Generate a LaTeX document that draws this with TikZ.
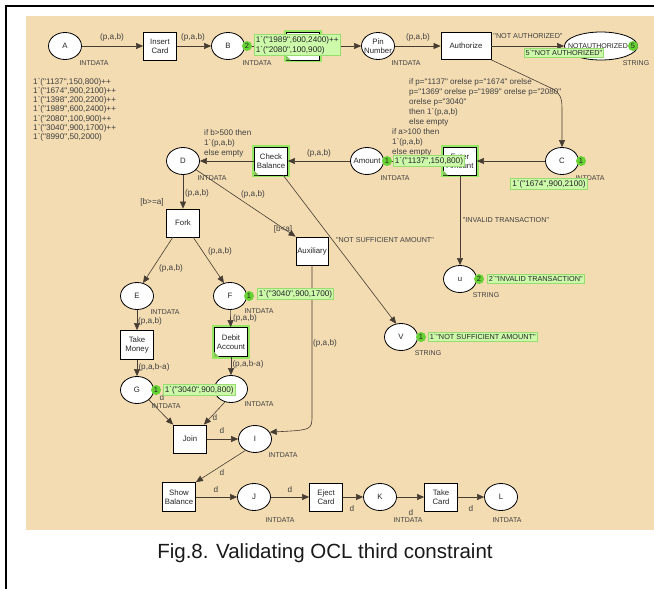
\documentclass[tikz,border=0pt]{standalone}
\usepackage{fontspec}
\setmainfont{Liberation Sans}[Ligatures=TeXOff]
\usetikzlibrary{arrows.meta,shapes.geometric,calc}
\definecolor{beige}{RGB}{243,220,178}
\definecolor{tokc}{RGB}{102,210,51}
\definecolor{tokfill}{RGB}{204,250,170}
\definecolor{tokdraw}{RGB}{150,220,110}
\definecolor{glow}{RGB}{150,232,100}
\definecolor{arccol}{RGB}{70,60,50}
\begin{document}
\begin{tikzpicture}[x=1pt,y=-1pt,
 every node/.style={font=\fontsize{7.8}{9.2}\selectfont, text=black!85},
 place/.style={ellipse, draw=black, line width=0.8pt, fill=white, minimum width=33pt, minimum height=27pt, inner sep=-6pt, align=center},
 trans/.style={rectangle, draw=black, line width=0.8pt, fill=white, minimum width=33pt, minimum height=28pt, inner sep=0pt, align=center},
 entrans/.style={trans, preaction={draw=glow, line width=4.5pt}},
 arc/.style={draw=arccol, line width=0.6pt, -{Triangle[length=7pt,width=6pt]}},
 lab/.style={inner sep=0pt, text=black!75, font=\fontsize{8.2}{9.6}\selectfont},
 caplab/.style={inner sep=0pt, text=black!75, font=\fontsize{7.2}{9}\selectfont},
 typ/.style={inner sep=0pt, font=\fontsize{7}{8}\selectfont, text=black!75},
 tok/.style={circle, fill=tokc, inner sep=0pt, minimum size=10pt, font=\fontsize{7.5}{8}\selectfont},
 tokbox/.style={rectangle, fill=tokfill, draw=tokdraw, line width=0.8pt, inner sep=1.5pt, align=left, font=\fontsize{8.2}{9.8}\selectfont},
 stokbox/.style={tokbox, font=\fontsize{7.3}{9}\selectfont},
]
\useasboundingbox (0,0) rectangle (654,589);
\fill[white] (0,0) rectangle (654,589);
\fill[beige] (26,16) rectangle (654,530);
\draw[line width=2pt] (6,589) -- (6,6) -- (654,6);

% nodes
\node[place] (a) at (65,46) {A};
\node[trans] (ic) at (160,46) {Insert\\Card};
\node[place] (b) at (228,46) {B};
\node[entrans] (t1) at (303,46) {};
\node[place] (pn) at (378,46) {Pin\\Number};
\node[trans, minimum width=50pt, minimum height=27pt] (au) at (466,46) {Authorize};
\node[place, minimum width=73pt, minimum height=28pt, inner sep=-12pt] (na) at (601,46) {};
\node[inner sep=0pt, font=\fontsize{7}{8}\selectfont] (nat) at (598,46) {NOTAUTHORIZED};

\node[place] (d) at (183,161) {D};
\node[entrans] (cb) at (271,161) {Check\\Balance};
\node[place] (am) at (367,161) {Amount};
\node[entrans] (ea) at (460,161) {Enter\\Amount};
\node[place] (c) at (562,161) {C};

\node[trans] (fork) at (183,223) {Fork};
\node[trans, minimum width=32pt] (aux) at (312,251) {Auxiliary};
\node[place] (u) at (460,279) {u};
\node[place] (v) at (401,337) {V};
\node[place] (e) at (137,296) {E};
\node[place] (f) at (230,296) {F};
\node[trans, minimum height=29pt] (tm) at (137,345) {Take\\Money};
\node[entrans, minimum height=29pt] (da) at (231,342) {Debit\\Account};
\node[place] (g) at (137,390) {G};
\node[place] (h) at (231,389) {};
\node[trans] (join) at (190,439) {Join};
\node[place] (i) at (255,439) {I};
\node[trans, minimum height=29pt] (sb) at (179,497) {Show\\Balance};
\node[place] (j) at (254,497) {J};
\node[trans] (ec) at (326,497) {Eject\\Card};
\node[place] (k) at (380,497) {K};
\node[trans] (tc) at (441,497) {Take\\Card};
\node[place] (l) at (501,497) {L};

% enabled marks
\foreach \n in {t1,cb,ea,da}{
  \fill[glow!85!black] (\n.south west) -- ++(5,0) -- ++(-5,-5) -- cycle;
}

% arcs
\draw[arc] (a) -- (ic);
\draw[arc] (ic) -- (b);
\draw[arc] (b) -- (t1);
\draw[arc] (t1) -- (pn);
\draw[arc] (pn) -- (au);
\draw[arc] (au) -- (na);
\draw[arc] (au.south east) -- (553,89) .. controls (562,95) and (562,100) .. (562,112) -- (c.north);
\draw[arc] (c) -- (ea);
\draw[arc] (ea) -- (am);
\draw[arc] (ea) -- (u);
\draw[arc] (am) -- (cb);
\draw[arc] (cb) -- (d);
\coordinate (cbv) at (283,175);
\draw[arc] (cbv) -- (v.110);
\draw[arc] (d) -- (fork);
\draw[arc] (d) -- (aux.north west);
\coordinate (fe) at (173,237);
\coordinate (ff) at (193,237);
\draw[arc] (fe) -- (e.65);
\draw[arc] (ff) -- (f.115);
\draw[arc] (e) -- (tm);
\draw[arc] (tm) -- (g);
\draw[arc] (f) -- (da);
\draw[arc] (da) -- (h);
\draw[arc] (g.-40) -- (join.north west);
\draw[arc] (h.-115) -- ($(join.north east)+(-3,0)$);
\draw[arc] (join) -- (i);
\draw[arc] (aux.south) -- (312,415) .. controls (312,430) .. (i.25);
\draw[arc] (i.-130) -- (sb.north east);
\draw[arc] (sb) -- (j);
\draw[arc] (j) -- (ec);
\draw[arc] (ec) -- (k);
\draw[arc] (k) -- (tc);
\draw[arc] (tc) -- (l);

% arc labels
\node[lab] (l1) at (112,37) {(p,a,b)};
\node[lab] (l2) at (193,37) {(p,a,b)};
\node[lab] (l3) at (418,37) {(p,a,b)};
\node[caplab] (l4) at (528,36) {"NOT AUTHORIZED"};
\node[lab, align=left, anchor=north west, font=\fontsize{8.1}{10}\selectfont] (l5) at (409,78) {if p="1137" orelse p="1674" orelse\\p="1369" orelse p="1989" orelse p="2080"\\orelse p="3040"\\then 1`(p,a,b)\\else empty};
\node[lab, align=left, anchor=north west, font=\fontsize{8.1}{10}\selectfont] (l6) at (392,128) {if a>100 then\\1`(p,a,b)\\else empty};
\node[lab, align=left, anchor=north west, font=\fontsize{8.1}{10}\selectfont] (l7) at (204,129) {if b>500 then\\1`(p,a,b)\\else empty};
\node[lab] (l8) at (319,153) {(p,a,b)};
\node[caplab] (l9) at (506,220) {"INVALID TRANSACTION"};
\node[caplab] (l10) at (385,240) {"NOT SUFFICIENT AMOUNT"};
\node[lab] (l11) at (197,193) {(p,a,b)};
\node[lab] (l12) at (152,202) {[b>=a]};
\node[lab] (l13) at (253,194) {(p,a,b)};
\node[lab] (l14) at (283,229) {[b<a]};
\node[lab] (l15) at (171,268) {(p,a,b)};
\node[lab] (l16) at (220,251) {(p,a,b)};
\node[lab] (l17) at (150,321) {(p,a,b)};
\node[lab] (l18) at (154,367) {(p,a,b-a)};
\node[lab] (l19) at (245,318) {(p,a,b)};
\node[lab] (l20) at (248,364) {(p,a,b-a)};
\node[lab] (l21) at (325,343) {(p,a,b)};
\node[lab] (l22) at (162,398) {d};
\node[lab] (l23) at (215,418) {d};
\node[lab] (l24) at (222,431) {d};
\node[lab] (l25) at (222,473) {d};
\node[lab] (l26) at (216,490) {d};
\node[lab] (l27) at (290,490) {d};
\node[lab] (l28) at (352,509) {d};
\node[lab] (l29) at (411,513) {d};
\node[lab] (l30) at (471,509) {d};

% initial marking of A
\node[lab, align=left, anchor=north west, font=\fontsize{8.2}{9.2}\selectfont] (im) at (33,78) {1`("1137",150,800)++\\1`("1674",900,2100)++\\1`("1398",200,2200)++\\1`("1989",600,2400)++\\1`("2080",100,900)++\\1`("3040",900,1700)++\\1`("8990",50,2000)};

% type labels
\node[typ] (ya) at (94,63) {INTDATA};
\node[typ] (yb) at (257,63) {INTDATA};
\node[typ] (ypn) at (406,63) {INTDATA};
\node[typ] (yna) at (636,63) {STRING};
\node[typ] (yc) at (590,178) {INTDATA};
\node[typ] (yam) at (395,178) {INTDATA};
\node[typ] (yd) at (212,178) {INTDATA};
\node[typ] (yu) at (486,295) {STRING};
\node[typ] (yv) at (428,353) {STRING};
\node[typ] (ye) at (165,312) {INTDATA};
\node[typ] (yf) at (259,311) {INTDATA};
\node[typ] (yg) at (166,406) {INTDATA};
\node[typ] (yh) at (259,404) {INTDATA};
\node[typ] (yi) at (283,455) {INTDATA};
\node[typ] (yj) at (280,520) {INTDATA};
\node[typ] (yk) at (408,520) {INTDATA};
\node[typ] (yl) at (507,520) {INTDATA};

% tokens
\node[tokbox, anchor=west] (tbb) at (254,45) {1`("1989",600,2400)++\\1`("2080",100,900)};
\node[tok] (tb) at (247,46) {2};
\node[stokbox] (tnab) at (564,53) {5`"NOT AUTHORIZED"};
\node[tok] (tna) at (633,46) {5};
\node[tokbox] (tcb) at (549,184) {1`("1674",900,2100)};
\node[tok] (tc1) at (581,161) {1};
\node[tokbox, anchor=west] (tamb) at (393,161) {1`("1137",150,800)};
\node[tok] (tam) at (387,161) {1};
\node[stokbox, anchor=west] (tub) at (487,279) {2`"INVALID TRANSACTION"};
\node[tok] (tu) at (479,279) {2};
\node[stokbox, anchor=west] (tvb) at (428,337) {1`"NOT SUFFICIENT AMOUNT"};
\node[tok] (tv) at (421,337) {1};
\node[tokbox, anchor=west] (tfb) at (257,294) {1`("3040",900,1700)};
\node[tok] (tf) at (249,296) {1};
\node[tokbox, anchor=west] (tgb) at (163,390) {1`("3040",900,800)};
\node[tok] (tg) at (156,390) {1};

% caption
\node[font=\fontsize{20.5}{24}\selectfont, anchor=base, text=black!90] (cap) at (325,558) {Fig.8. Validating OCL third constraint};
\end{tikzpicture}
\end{document}
